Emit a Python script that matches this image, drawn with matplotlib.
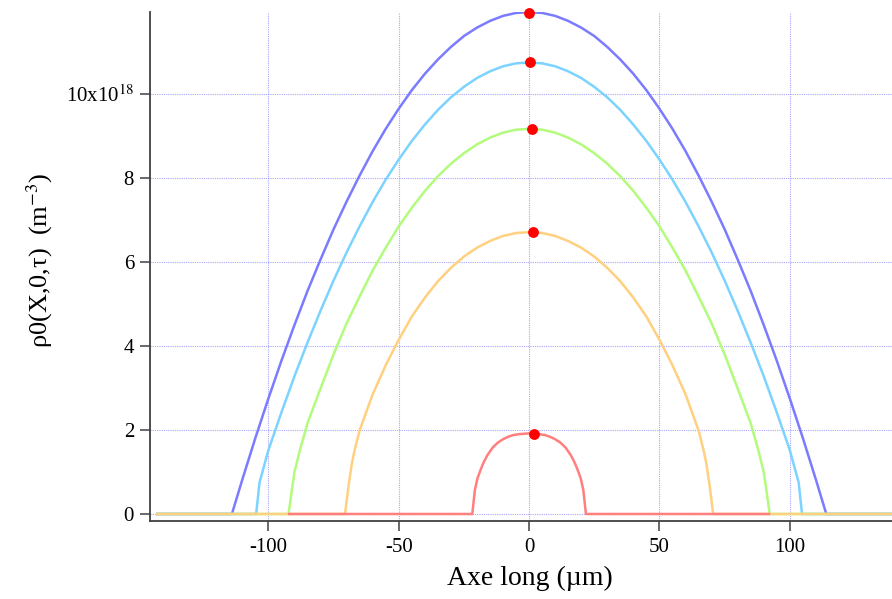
import numpy as np
import matplotlib
matplotlib.use('Agg')
import matplotlib.pyplot as plt

plt.rcParams['font.family'] = ['Liberation Serif', 'DejaVu Serif']
plt.rcParams['mathtext.fontset'] = 'stix'
plt.rcParams['axes.unicode_minus'] = False

# densité (en 1e18 m^-3) le long de l'axe long (µm)
x_blue = [-142.6, -114, -110, -105, -100, -95, -90, -85, -80, -75, -70, -65, -60, -55, -50,
          -45, -40, -35, -30, -25, -20, -15, -10, -5, 0,
          5, 10, 15, 20, 25, 30, 35, 40, 45, 50, 55, 60, 65, 70, 75, 80, 85, 90, 95, 100,
          105, 110, 114, 142.6]
y_blue = [0, 0, 0.82, 1.81, 2.75, 3.65, 4.50, 5.31, 6.06, 6.78, 7.44, 8.06, 8.64, 9.17, 9.65,
          10.09, 10.48, 10.82, 11.12, 11.38, 11.58, 11.74, 11.86, 11.93, 11.95,
          11.93, 11.86, 11.74, 11.58, 11.38, 11.12, 10.82, 10.48, 10.09, 9.65, 9.17, 8.64,
          8.06, 7.44, 6.78, 6.06, 5.31, 4.50, 3.65, 2.75, 1.81, 0.82, 0, 0]

x_cyan = [-142.6, -104.7, -103.4, -100, -95, -90, -85, -80, -75, -70, -65, -60, -55, -50,
          -45, -40, -35, -30, -25, -20, -15, -10, -5, 0,
          5, 10, 15, 20, 25, 30, 35, 40, 45, 50, 55, 60, 65, 70, 75, 80, 85, 90, 95, 100,
          103.4, 104.7, 142.6]
y_cyan = [0, 0, 0.75, 1.52, 2.42, 3.28, 4.08, 4.84, 5.56, 6.23, 6.85, 7.43, 7.96, 8.44,
          8.88, 9.27, 9.62, 9.92, 10.17, 10.38, 10.54, 10.66, 10.73, 10.75,
          10.73, 10.66, 10.54, 10.38, 10.17, 9.92, 9.62, 9.27, 8.88, 8.44, 7.96, 7.43, 6.85,
          6.23, 5.56, 4.84, 4.08, 3.28, 2.42, 1.52, 0.75, 0, 0]

x_green = [-142.6, -92.3, -91, -90, -88, -85, -80, -75, -70, -65, -60, -55, -50, -45, -40,
           -35, -30, -25, -20, -15, -10, -5, 0,
           5, 10, 15, 20, 25, 30, 35, 40, 45, 50, 55, 60, 65, 70, 75, 80, 85, 88, 90, 91,
           92.3, 142.6]
y_green = [0, 0, 0.57, 1.0, 1.5, 2.16, 2.99, 3.80, 4.54, 5.18, 5.80, 6.34, 6.85, 7.29, 7.69,
           8.04, 8.34, 8.59, 8.80, 8.96, 9.08, 9.15, 9.17,
           9.15, 9.08, 8.96, 8.80, 8.59, 8.34, 8.04, 7.69, 7.29, 6.85, 6.34, 5.80, 5.18, 4.54,
           3.80, 2.99, 2.16, 1.5, 1.0, 0.57, 0, 0]

x_orange = [-142.6, -70.6, -69.3, -68, -67, -65, -60, -55, -50, -45, -40, -35, -30, -25,
            -20, -15, -10, -5, 0,
            5, 10, 15, 20, 25, 30, 35, 40, 45, 50, 55, 60, 65, 67, 68, 69.3, 70.6, 142.6]
y_orange = [0, 0, 0.65, 1.2, 1.5, 1.99, 2.85, 3.54, 4.15, 4.70, 5.15, 5.54, 5.86, 6.13,
            6.34, 6.50, 6.62, 6.69, 6.71,
            6.69, 6.62, 6.50, 6.34, 6.13, 5.86, 5.54, 5.15, 4.70, 4.15, 3.54, 2.85, 1.99, 1.5,
            1.2, 0.65, 0, 0]

x_red = [-92, -21.8, -20.8, -19.8, -18.5, -17.5, -16, -14, -12, -10, -8, -6, -4, -2, 0,
         2, 4, 6, 8, 10, 12, 14, 16, 17.5, 18.5, 19.8, 20.8, 21.8, 92]
y_red = [0, 0, 0.57, 0.85, 1.07, 1.22, 1.40, 1.58, 1.70, 1.78, 1.84, 1.88, 1.90, 1.91, 1.92,
         1.91, 1.90, 1.88, 1.84, 1.78, 1.70, 1.58, 1.40, 1.22, 1.07, 0.85, 0.57, 0, 0]

# maxima
x_max = [0, 0.3, 1.0, 1.4, 1.9]
y_max = [11.94, 10.75, 9.17, 6.71, 1.90]

series = [
    (x_blue, y_blue, '#7b7bff'),
    (x_cyan, y_cyan, '#7dd3ff'),
    (x_green, y_green, '#b3fb7c'),
    (x_orange, y_orange, '#ffd07f'),
    (x_red, y_red, '#ff7f7f'),
]

fig = plt.figure(figsize=(8.92, 5.99), dpi=100)
ax = fig.add_axes([0.1682, 0.1307, 0.8318, 0.8498])

for xs, ys, c in series:
    ax.plot(xs, ys, color=c, lw=1.8, solid_joinstyle='round', zorder=3)

ax.plot(x_max, y_max, 'o', color='#ff0000', ms=7.8, mec='none', zorder=5, clip_on=False)

ax.set_xlim(-145.4, 139.2)
ax.set_ylim(-0.16, 11.96)

ax.set_xticks([-100, -50, 0, 50, 100])
ax.set_yticks([0, 2, 4, 6, 8, 10])
ax.set_yticklabels(['0', '2', '4', '6', '8', r'10x10$^{18}$'])

ax.grid(True, color='#8080ff', lw=0.8, ls=(0, (1, 1)), alpha=0.7)
ax.set_axisbelow(True)

for s in ['top', 'right']:
    ax.spines[s].set_visible(False)
for s in ['left', 'bottom']:
    ax.spines[s].set_color('#404040')
    ax.spines[s].set_linewidth(1.3)

ax.tick_params(axis='both', direction='out', length=7.5, width=1.1, color='#404040',
               labelsize=15)
ax.tick_params(axis='x', pad=5)
ax.tick_params(axis='y', pad=4)

ax.set_xlabel(u'Axe long (\u00b5m)', fontsize=20, va='center')
ax.xaxis.set_label_coords(0.512, -0.1126)
ax.set_ylabel(u'\u03c10(X,0,\u03c4)  (m$^{-3}$)', fontsize=19, va='center')
ax.yaxis.set_label_coords(-0.148, 0.512)

fig.savefig('out.png', dpi=100)
